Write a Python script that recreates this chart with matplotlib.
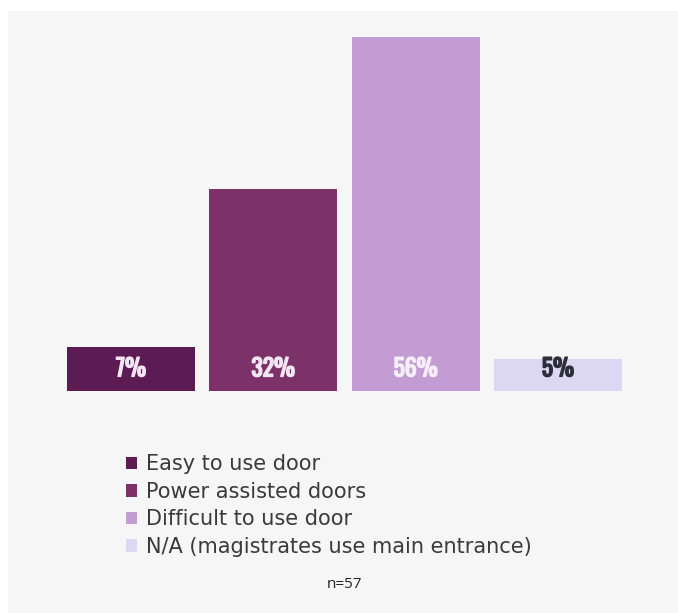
import matplotlib
matplotlib.use('Agg')
import matplotlib.pyplot as plt
import matplotlib.patheffects as pe
from matplotlib.patches import Rectangle, Patch

categories = ['Easy to use door', 'Power assisted doors', 'Difficult to use door',
              'N/A (magistrates use main entrance)']
values = [7, 32, 56, 5]
bar_labels = ['7%', '32%', '56%', '5%']
colors = ['#5c1b52', '#7c3169', '#c29cd3', '#dcd8f3']
label_colors = ['#f3e6f3', '#f3e6f3', '#f6eef8', '#2e2e3a']
sample_note = 'n=57'

W, H = 678, 613
fig = plt.figure(figsize=(W / 100, H / 100), dpi=100)
fig.patch.set_facecolor('white')

# grey panel behind everything
fig.patches.append(Rectangle((8 / W, 0), 1 - 8 / W, 1 - 11 / H, transform=fig.transFigure,
                             facecolor='#f6f6f6', edgecolor='none', zorder=-5))

ax = fig.add_axes([67 / W, (H - 391) / H, (622 - 67) / W, (391 - 37) / H])
ax.set_zorder(2)
ax.patch.set_alpha(0)
x = list(range(len(values)))
ax.bar(x, values, width=0.9, color=colors)
for xi, lab, c in zip(x, bar_labels, label_colors):
    ax.text(xi, 3.5, lab, ha='center', va='center', color=c, fontsize=17,
            fontweight='bold', family=['Oswald', 'Roboto Condensed', 'DejaVu Sans'],
            path_effects=[pe.withStroke(linewidth=1.1, foreground=c)])
ax.set_xlim(-0.45, len(values) - 0.55)
ax.set_ylim(0, max(values))
ax.axis('off')

handles = [Patch(facecolor=c, edgecolor='none') for c in colors]
leg = fig.legend(handles, categories, loc='upper left',
                 bbox_to_anchor=(118 / W, 1 - 446 / H), frameon=False,
                 handlelength=0.52, handleheight=0.52,
                 handletextpad=0.42, labelspacing=0.36, borderaxespad=0,
                 prop={'family': 'DejaVu Sans', 'size': 15})
for t in leg.get_texts():
    t.set_color('#3a3a3a')

fig.text(345 / W, 1 - 585 / H, sample_note, ha='center', va='center',
         fontsize=11, color='#222222', family='Open Sans')

plt.savefig('out.png', dpi=100)
